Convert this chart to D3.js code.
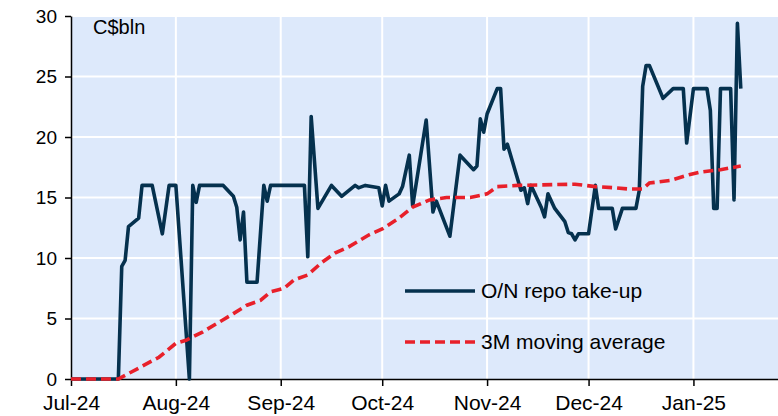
<!DOCTYPE html>
<html>
<head>
<meta charset="utf-8">
<script src="https://cdn.jsdelivr.net/npm/d3@7"></script>
<style>
  body { margin: 0; background: #fff; }
  text { font-family: "Liberation Sans", Arial, sans-serif; fill: #000; }
</style>
</head>
<body>
<svg id="chart"></svg>
<script>
// O/N repo take-up, C$bln
const repoDates = [
  "2024-07-01","2024-07-15","2024-07-16","2024-07-17","2024-07-18","2024-07-21","2024-07-22","2024-07-25",
  "2024-07-28","2024-07-30","2024-08-01","2024-08-05","2024-08-06","2024-08-07","2024-08-08","2024-08-15",
  "2024-08-18","2024-08-19","2024-08-20","2024-08-21","2024-08-22","2024-08-25","2024-08-27","2024-08-28",
  "2024-08-29","2024-09-08","2024-09-09","2024-09-10","2024-09-12","2024-09-16","2024-09-19","2024-09-23",
  "2024-09-24","2024-09-26","2024-09-30","2024-10-01","2024-10-02","2024-10-03","2024-10-06","2024-10-07",
  "2024-10-09","2024-10-10","2024-10-14","2024-10-16","2024-10-17","2024-10-21","2024-10-24","2024-10-28",
  "2024-10-29","2024-10-30","2024-10-31","2024-11-01","2024-11-04","2024-11-05","2024-11-06","2024-11-07",
  "2024-11-11","2024-11-12","2024-11-13","2024-11-14","2024-11-17","2024-11-18","2024-11-19","2024-11-21",
  "2024-11-24","2024-11-25","2024-11-26","2024-11-27","2024-11-28","2024-12-01","2024-12-03","2024-12-04",
  "2024-12-08","2024-12-09","2024-12-11","2024-12-15","2024-12-16","2024-12-17","2024-12-18","2024-12-19",
  "2024-12-23","2024-12-26","2024-12-29","2024-12-30","2025-01-01","2025-01-05","2025-01-06","2025-01-07",
  "2025-01-08","2025-01-09","2025-01-12","2025-01-13","2025-01-14","2025-01-15"
];
const repoValues = [
  0, 0, 9.3, 9.8, 12.6, 13.3, 16, 16,
  12.0, 16, 16, 0, 16, 14.6, 16, 16,
  15.1, 14.2, 11.5, 13.8, 8.0, 8.0, 16, 14.7,
  16, 16, 10.1, 21.7, 14.1, 16, 15.1, 16,
  15.8, 16, 15.8, 14.3, 16, 14.7, 15.3, 15.9,
  18.5, 14.3, 21.4, 13.8, 14.7, 11.8, 18.5, 17.3,
  17.6, 21.5, 20.4, 21.9, 24.0, 24.0, 19.0, 19.4,
  15.6, 15.8, 14.5, 16.0, 14.2, 13.4, 15.3, 14.1,
  13.0, 12.1, 12.0, 11.5, 12.0, 12.0, 16.0, 14.1,
  14.1, 12.4, 14.1, 14.1, 15.6, 24.2, 25.9, 25.9,
  23.2, 24.0, 24.0, 19.5, 24.0, 24.0, 22.2, 14.1,
  14.1, 24.0, 24.0, 14.8, 29.4, 24.0
];

// 3M moving average
const avgDates = [
  "2024-07-01","2024-07-15","2024-07-21","2024-07-27","2024-08-01","2024-08-04","2024-08-09","2024-08-15",
  "2024-08-18","2024-08-22","2024-08-26","2024-08-29","2024-09-02","2024-09-05","2024-09-09","2024-09-13",
  "2024-09-17","2024-09-21","2024-09-27","2024-10-01","2024-10-06","2024-10-10","2024-10-15","2024-10-20",
  "2024-10-27","2024-11-01","2024-11-04","2024-11-10","2024-11-27","2024-12-03","2024-12-09","2024-12-13",
  "2024-12-17","2024-12-19","2024-12-25","2024-12-31","2025-01-03","2025-01-09","2025-01-15"
];
const avgValues = [
  0, 0, 0.9, 1.8, 2.95, 3.2, 3.9, 4.9,
  5.4, 6.1, 6.5, 7.2, 7.5, 8.2, 8.6, 9.6,
  10.4, 10.9, 11.9, 12.4, 13.3, 14.2, 14.8, 15.0,
  15.0, 15.3, 15.9, 16.0, 16.1, 15.9, 15.8, 15.7,
  15.7, 16.2, 16.4, 16.9, 17.1, 17.3, 17.6
];

const yTicks = [0, 5, 10, 15, 20, 25, 30];
const xTicks = ["2024-07-01","2024-08-01","2024-09-01","2024-10-01","2024-11-01","2024-12-01","2025-01-01"];
const seriesNames = ["O/N repo take-up", "3M moving average"];

const parse = d3.timeParse("%Y-%m-%d");
const repo = repoDates.map((d, i) => ({date: parse(d), value: repoValues[i]}));
const avg = avgDates.map((d, i) => ({date: parse(d), value: avgValues[i]}));

const width = 778, height = 416;
const plot = {left: 71, right: 778, top: 16, bottom: 379};

const svg = d3.select("#chart")
    .attr("width", width)
    .attr("height", height);

const x = d3.scaleTime()
    .domain([parse("2024-07-01"), parse("2025-01-26")])
    .range([plot.left, plot.right]);

const y = d3.scaleLinear()
    .domain([0, 30])
    .range([plot.bottom, plot.top]);

// background
svg.append("rect")
    .attr("x", plot.left)
    .attr("y", plot.top)
    .attr("width", plot.right - plot.left)
    .attr("height", plot.bottom - plot.top)
    .attr("fill", "#dde9fb");

// grid
svg.append("g").selectAll("line")
    .data(yTicks.slice(1))
    .join("line")
    .attr("x1", plot.left).attr("x2", plot.right)
    .attr("y1", d => y(d)).attr("y2", d => y(d))
    .attr("stroke", "#fff").attr("stroke-width", 2);

svg.append("g").selectAll("line")
    .data(xTicks.slice(1).map(parse))
    .join("line")
    .attr("x1", d => x(d)).attr("x2", d => x(d))
    .attr("y1", plot.top).attr("y2", plot.bottom)
    .attr("stroke", "#fff").attr("stroke-width", 2);

// axes
const xAxis = svg.append("g")
    .attr("transform", `translate(0,${plot.bottom})`)
    .call(d3.axisBottom(x)
        .tickValues(xTicks.map(parse))
        .tickFormat(d3.timeFormat("%b-%y"))
        .tickSize(7)
        .tickSizeOuter(0));
xAxis.select(".domain").attr("stroke", "#000").attr("stroke-width", 1.5);
xAxis.selectAll(".tick line").attr("stroke", "#000").attr("stroke-width", 1.5);
xAxis.selectAll(".tick text")
    .attr("y", 16)
    .style("font-size", "21px")
    .style("font-family", "'Liberation Sans', Arial, sans-serif");

const yAxis = svg.append("g")
    .attr("transform", `translate(${plot.left},0)`)
    .call(d3.axisLeft(y)
        .tickValues(yTicks)
        .tickSize(6)
        .tickSizeOuter(0));
yAxis.select(".domain").attr("stroke", "#000").attr("stroke-width", 1.5);
yAxis.selectAll(".tick line").attr("stroke", "#000").attr("stroke-width", 1.5);
yAxis.selectAll(".tick text")
    .attr("x", -14)
    .style("font-size", "19px")
    .style("font-family", "'Liberation Sans', Arial, sans-serif");

// lines (average drawn on top, as in the source)
const line = d3.line()
    .x(d => x(d.date))
    .y(d => y(d.value));

svg.append("path")
    .datum(repo)
    .attr("fill", "none")
    .attr("stroke", "#05314e")
    .attr("stroke-width", 3.6)
    .attr("stroke-linejoin", "round")
    .attr("d", line);

svg.append("path")
    .datum(avg)
    .attr("fill", "none")
    .attr("stroke", "#e8202a")
    .attr("stroke-width", 3.6)
    .attr("stroke-dasharray", "10,5")
    .attr("d", line);

// unit label
svg.append("text")
    .attr("x", 93)
    .attr("y", 34)
    .style("font-size", "20px")
    .text("C$bln");

// legend
const legend = svg.append("g");
const legendRows = [
    {name: seriesNames[0], color: "#05314e", dash: null, y: 291},
    {name: seriesNames[1], color: "#e8202a", dash: "10,5", y: 342}
];
legendRows.forEach(r => {
    legend.append("line")
        .attr("x1", 405).attr("x2", 475)
        .attr("y1", r.y).attr("y2", r.y)
        .attr("stroke", r.color)
        .attr("stroke-width", 3.6)
        .attr("stroke-dasharray", r.dash);
    legend.append("text")
        .attr("x", 481)
        .attr("y", r.y)
        .attr("dy", "0.35em")
        .style("font-size", "21px")
        .text(r.name);
});
</script>
</body>
</html>
